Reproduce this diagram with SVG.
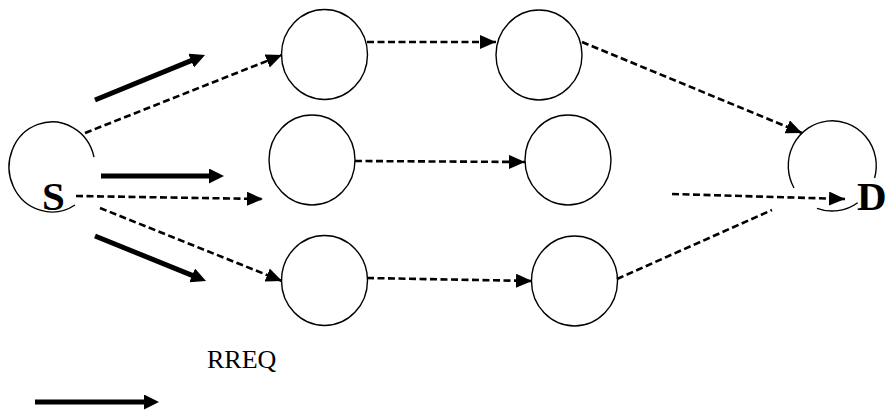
<svg xmlns="http://www.w3.org/2000/svg" width="885" height="414" viewBox="0 0 885 414">
<style>
.node{fill:none;stroke:#000;stroke-width:1.4}
.dash{fill:none;stroke:#000;stroke-width:2.6;stroke-dasharray:7 3.5}
.solid{fill:none;stroke:#000;stroke-width:5}
.lbl{font-family:"Liberation Serif","Times New Roman",serif;fill:#000}
.big{font-size:41px;font-weight:bold}
</style>
<defs>
<marker id="dh" markerUnits="userSpaceOnUse" markerWidth="17" markerHeight="15" refX="16" refY="7" orient="auto">
<path d="M0,0 L16,7 L0,14 z" fill="#000"/>
</marker>
<marker id="sh" markerUnits="userSpaceOnUse" markerWidth="16" markerHeight="16" refX="2" refY="7.5" orient="auto">
<path d="M0,0 L15,7.5 L0,15 z" fill="#000"/>
</marker>
</defs>
<rect width="885" height="414" fill="#fff"/>
<g id="S">
<path class="node" d="M94,157 A43,45 0 1 0 75,205"/>
<text class="lbl big" x="42" y="210">S</text>
</g>
<g id="D">
<path class="node" d="M794,188 A44,45 0 1 1 874.6,178"/>
<path class="node" d="M857.7,202.7 A44,45 0 0 1 817,208.3"/>
<text class="lbl big" x="857" y="210">D</text>
</g>
<g id="A1"><ellipse class="node" cx="324.5" cy="54.5" rx="43" ry="45"/></g>
<g id="A2"><ellipse class="node" cx="539" cy="55" rx="43" ry="45"/></g>
<g id="B1"><ellipse class="node" cx="312" cy="160" rx="43" ry="45"/></g>
<g id="B2"><ellipse class="node" cx="568" cy="160" rx="43" ry="45"/></g>
<g id="C1"><ellipse class="node" cx="324.5" cy="280.5" rx="43" ry="45"/></g>
<g id="C2"><ellipse class="node" cx="574.5" cy="281" rx="43" ry="45"/></g>
<g id="connectors">
<line class="dash" x1="85" y1="133" x2="282" y2="55" marker-end="url(#dh)"/>
<line class="dash" x1="76" y1="196" x2="263" y2="199" marker-end="url(#dh)"/>
<line class="dash" x1="100" y1="208" x2="282" y2="281" marker-end="url(#dh)"/>
<line class="dash" x1="367" y1="42" x2="496" y2="42" marker-end="url(#dh)"/>
<line class="dash" x1="355" y1="161" x2="525" y2="162" marker-end="url(#dh)"/>
<line class="dash" x1="367" y1="278" x2="532" y2="281" marker-end="url(#dh)"/>
<line class="dash" x1="582" y1="42" x2="802" y2="133" marker-end="url(#dh)"/>
<line class="dash" x1="672" y1="194" x2="845" y2="199" marker-end="url(#dh)"/>
<line class="dash" x1="617" y1="279" x2="772" y2="210"/>
<line class="solid" x1="95" y1="100" x2="193" y2="59.9" marker-end="url(#sh)"/>
<line class="solid" x1="101" y1="176" x2="211" y2="176" marker-end="url(#sh)"/>
<line class="solid" x1="95" y1="236" x2="194" y2="276.1" marker-end="url(#sh)"/>
</g>
<g id="legend">
<text class="lbl" x="207" y="368" font-size="26">RREQ</text>
<line class="solid" x1="35" y1="402" x2="146" y2="402" marker-end="url(#sh)"/>
</g>
</svg>
